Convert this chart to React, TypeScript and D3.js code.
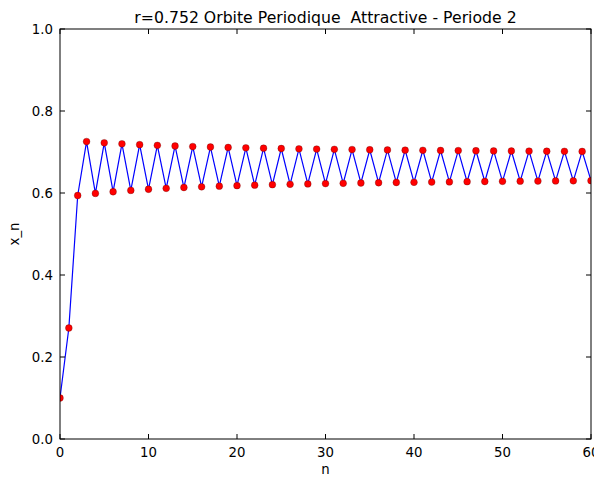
import React from "react";
import * as d3 from "d3";

// Iterates x_n of the orbit, n = 0..60
const orbit: number[] = [
  0.1, 0.27072, 0.593872, 0.725493, 0.599052, 0.722488, 0.603101, 0.720025,
  0.60638, 0.717959, 0.609102, 0.716196, 0.611403, 0.714668, 0.613385, 0.713329,
  0.615109, 0.712144, 0.616625, 0.711088, 0.61797, 0.710138, 0.619173, 0.70928,
  0.620253, 0.708501, 0.621233, 0.707788, 0.622127, 0.707136, 0.622942, 0.706534,
  0.623691, 0.705978, 0.62438, 0.705466, 0.625012, 0.704991, 0.625598, 0.704549,
  0.626145, 0.704134, 0.626657, 0.703746, 0.627132, 0.703385, 0.627574, 0.703045,
  0.627989, 0.702726, 0.628377, 0.702425, 0.628744, 0.702142, 0.62909, 0.701875,
  0.629415, 0.701622, 0.629719, 0.701384, 0.630011,
];

const xTicks: number[] = [0, 10, 20, 30, 40, 50, 60];
const yTicks: number[] = [0.0, 0.2, 0.4, 0.6, 0.8, 1.0];

const titleText = "r=0.752 Orbite Periodique  Attractive - Periode 2";
const xLabel = "n";
const yLabel = "x_n";

const W = 594;
const H = 479;
const left = 60;
const right = 591;
const top = 29;
const bottom = 439;
const font = "'DejaVu Sans', sans-serif";

export default function App() {
  const x = d3.scaleLinear().domain([0, 60]).range([left, right]);
  const y = d3.scaleLinear().domain([0, 1]).range([bottom, top]);
  const line = d3
    .line<number>()
    .x((_, i) => x(i))
    .y((d) => y(d));

  const tickLen = 5;

  return (
    <svg
      width={W}
      height={H}
      style={{ position: "absolute", left: 0, top: 0, background: "#fff" }}
      fontFamily={font}
    >
      <rect x={0} y={0} width={W} height={H} fill="#fff" />
      <defs>
        <clipPath id="plot-area">
          <rect x={left} y={top} width={right - left} height={bottom - top} />
        </clipPath>
      </defs>

      <g clipPath="url(#plot-area)">
        <path d={line(orbit) || ""} fill="none" stroke="#0000ff" strokeWidth={1.2} />
        {orbit.map((v, i) => (
          <circle
            key={i}
            cx={x(i)}
            cy={y(v)}
            r={3.4}
            fill="#ff0000"
            stroke="#400000"
            strokeWidth={0.3}
          />
        ))}
      </g>

      {/* frame */}
      <rect
        x={left}
        y={top}
        width={right - left}
        height={bottom - top}
        fill="none"
        stroke="#000"
        strokeWidth={1}
      />

      {/* x ticks, inward on bottom and top */}
      {xTicks.map((t) => (
        <g key={"x" + t}>
          <line x1={x(t)} x2={x(t)} y1={bottom} y2={bottom - tickLen} stroke="#000" />
          <line x1={x(t)} x2={x(t)} y1={top} y2={top + tickLen} stroke="#000" />
          <text
            x={x(t)}
            y={bottom + 18}
            textAnchor="middle"
            fontSize={13.3}
            fill="#000"
          >
            {t}
          </text>
        </g>
      ))}

      {/* y ticks, inward on left and right */}
      {yTicks.map((t) => (
        <g key={"y" + t}>
          <line x1={left} x2={left + tickLen} y1={y(t)} y2={y(t)} stroke="#000" />
          <line x1={right} x2={right - tickLen} y1={y(t)} y2={y(t)} stroke="#000" />
          <text
            x={left - 7}
            y={y(t) + 5}
            textAnchor="end"
            fontSize={13.3}
            fill="#000"
          >
            {t.toFixed(1)}
          </text>
        </g>
      ))}

      <text
        x={(left + right) / 2}
        y={23}
        textAnchor="middle"
        fontSize={15.7}
        fill="#000"
        style={{ whiteSpace: "pre" }}
      >
        {titleText}
      </text>
      <text
        x={(left + right) / 2}
        y={474}
        textAnchor="middle"
        fontSize={13.3}
        fill="#000"
      >
        {xLabel}
      </text>
      <text
        transform={`translate(19, ${(top + bottom) / 2}) rotate(-90)`}
        textAnchor="middle"
        fontSize={13.3}
        fill="#000"
      >
        {yLabel}
      </text>
    </svg>
  );
}
